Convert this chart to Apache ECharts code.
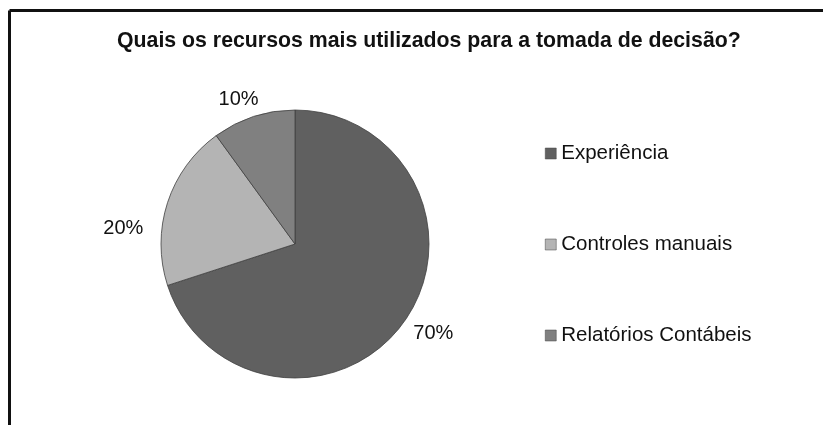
<!DOCTYPE html>
<html>
<head>
<meta charset="utf-8">
<script src="https://cdn.jsdelivr.net/npm/echarts@6/dist/echarts.min.js"></script>
<style>
html,body{margin:0;padding:0;background:#fff;}
#chart{width:823px;height:425px;}
</style>
</head>
<body>
<div id="chart"></div>
<script>
const titleText = 'Quais os recursos mais utilizados para a tomada de decisão?';
const categories = ['Experiência', 'Controles manuais', 'Relatórios Contábeis'];
const values = [70, 20, 10];
const colors = ['#606060', '#b4b4b4', '#808080'];
const labelOffsets = [[-8, 1], [-4, 31], [15, -2]];

const chart = echarts.init(document.getElementById('chart'), null, {renderer: 'canvas'});
const font = '"Liberation Sans", Arial, sans-serif';

chart.setOption({
  backgroundColor: '#ffffff',
  animation: false,
  graphic: [
    {type: 'line', shape: {x1: 9.5, y1: 10.5, x2: 830, y2: 10.5}, style: {stroke: '#111', lineWidth: 3}},
    {type: 'line', shape: {x1: 9.5, y1: 10.5, x2: 9.5, y2: 430}, style: {stroke: '#111', lineWidth: 3}}
  ],
  title: {
    text: titleText,
    left: 117,
    top: 31,
    padding: 0,
    textStyle: {fontFamily: font, fontSize: 21.3, fontWeight: 'bold', color: '#111'}
  },
  legend: {
    orient: 'vertical',
    left: 545,
    top: 143,
    padding: 0,
    itemWidth: 11,
    itemHeight: 11,
    itemGap: 70,
    icon: 'rect',
    data: categories,
    textStyle: {fontFamily: font, fontSize: 20.5, color: '#111'},
    itemStyle: {borderColor: '#444', borderWidth: 0.5}
  },
  series: [{
    type: 'pie',
    center: [295, 244],
    radius: [0, 134],
    startAngle: 90,
    clockwise: true,
    data: categories.map((c, i) => ({
      name: c,
      value: values[i],
      itemStyle: {color: colors[i]},
      label: {offset: labelOffsets[i]}
    })),
    itemStyle: {borderColor: '#404040', borderWidth: 0.8},
    label: {
      show: true,
      position: 'outside',
      formatter: '{c}%',
      fontFamily: font,
      fontSize: 20,
      color: '#111'
    },
    labelLine: {show: false, length: 16, length2: 0},
    emphasis: {disabled: true}
  }]
});
</script>
</body>
</html>
